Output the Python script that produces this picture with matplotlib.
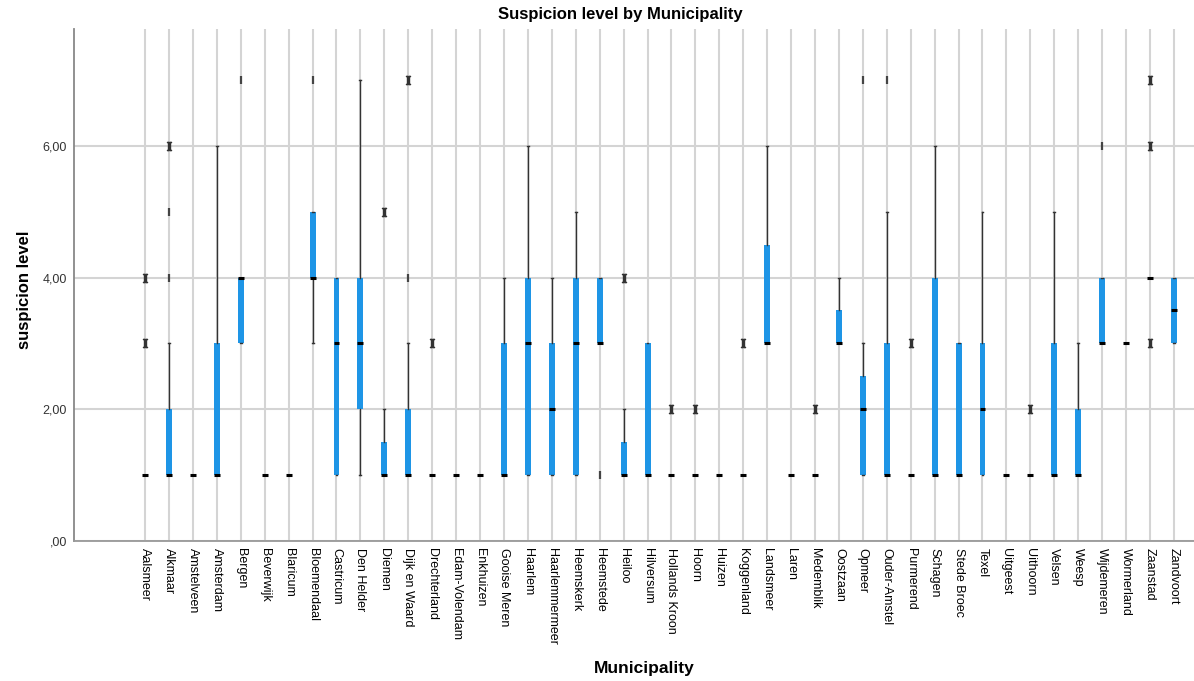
import matplotlib
matplotlib.use("Agg")
import matplotlib.pyplot as plt

plt.rcParams['font.family'] = ['Liberation Sans', 'DejaVu Sans']
plt.rcParams['mathtext.fontset'] = 'dejavuserif'

municipalities = [
    "Aalsmeer", "Alkmaar", "Amstelveen", "Amsterdam", "Bergen", "Beverwijk",
    "Blaricum", "Bloemendaal", "Castricum", "Den Helder", "Diemen",
    "Dijk en Waard", "Drechterland", "Edam-Volendam", "Enkhuizen",
    "Gooise Meren", "Haarlem", "Haarlemmermeer", "Heemskerk", "Heemstede",
    "Heiloo", "Hilversum", "Hollands Kroon", "Hoorn", "Huizen", "Koggenland",
    "Landsmeer", "Laren", "Medemblik", "Oostzaan", "Opmeer", "Ouder-Amstel",
    "Purmerend", "Schagen", "Stede Broec", "Texel", "Uitgeest", "Uithoorn",
    "Velsen", "Weesp", "Wijdemeren", "Wormerland", "Zaanstad", "Zandvoort",
]

q1 = [1, 1, 1, 1, 3, 1, 1, 4, 1, 2, 1, 1, 1, 1, 1, 1, 1, 1, 1, 3, 1, 1,
      1, 1, 1, 1, 3, 1, 1, 3, 1, 1, 1, 1, 1, 1, 1, 1, 1, 1, 3, 3, 4, 3]
median = [1, 1, 1, 1, 4, 1, 1, 4, 3, 3, 1, 1, 1, 1, 1, 1, 3, 2, 3, 3, 1, 1,
          1, 1, 1, 1, 3, 1, 1, 3, 2, 1, 1, 1, 1, 2, 1, 1, 1, 1, 3, 3, 4, 3.5]
q3 = [1, 2, 1, 3, 4, 1, 1, 5, 4, 4, 1.5, 2, 1, 1, 1, 3, 4, 3, 4, 4, 1.5, 3,
      1, 1, 1, 1, 4.5, 1, 1, 3.5, 2.5, 3, 1, 4, 3, 3, 1, 1, 3, 2, 4, 3, 4, 4]
whisker_lo = [1, 1, 1, 1, 3, 1, 1, 3, 1, 1, 1, 1, 1, 1, 1, 1, 1, 1, 1, 3, 1, 1,
              1, 1, 1, 1, 3, 1, 1, 3, 1, 1, 1, 1, 1, 1, 1, 1, 1, 1, 3, 3, 4, 3]
whisker_hi = [1, 3, 1, 6, 4, 1, 1, 5, 4, 7, 2, 3, 1, 1, 1, 4, 6, 4, 5, 4, 2, 3,
              1, 1, 1, 1, 6, 1, 1, 4, 3, 5, 1, 6, 3, 5, 1, 1, 5, 3, 4, 3, 4, 4]
outliers = [[3, 4], [6], [], [], [], [], [], [], [], [], [5], [7], [3], [], [],
            [], [], [], [], [], [4], [], [2], [2], [], [3], [], [], [2], [], [],
            [], [3], [], [], [], [], [2], [], [], [], [], [3, 6, 7], []]
extremes = [[], [4, 5], [], [], [7], [], [], [7], [], [], [], [4], [], [], [],
            [], [], [], [], [1], [], [], [], [], [], [], [], [], [], [], [7],
            [7], [], [], [], [], [], [], [], [], [6], [], [], []]

ytick_vals = [0, 2, 4, 6]
ytick_labels = [",00", "2,00", "4,00", "6,00"]

stats = []
for i, name in enumerate(municipalities):
    stats.append(dict(label=name, q1=q1[i], med=median[i], q3=q3[i],
                      whislo=whisker_lo[i], whishi=whisker_hi[i],
                      fliers=outliers[i]))

fig = plt.figure(figsize=(11.94, 6.81), dpi=100)
ax = fig.add_axes([0.062, 0.206, 0.938, 0.7515])
ax.set_axisbelow(True)

pos = list(range(len(municipalities)))
ax.bxp(stats, positions=pos, widths=0.25, patch_artist=True,
       boxprops=dict(facecolor='#1e95e6', edgecolor='#1e95e6', linewidth=0),
       medianprops=dict(color='black', linewidth=2.2, solid_capstyle='butt'),
       whiskerprops=dict(color='#333333', linewidth=1),
       capprops=dict(color='#333333', linewidth=1),
       capwidths=0.08,
       flierprops=dict(marker=r'$\mathrm{I}$', markersize=6,
                       markerfacecolor='#333333', markeredgecolor='#333333',
                       linestyle='none'))

# extreme values drawn as plain dashes
for i, vals in enumerate(extremes):
    if vals:
        ax.plot([i] * len(vals), vals, marker='|', linestyle='none',
                markersize=6, markeredgewidth=1.6, color='#444444')

ax.set_xlim(-2.97, 43.84)
ax.set_ylim(0, 7.78)
ax.set_xticks(pos)
ax.set_xticklabels(municipalities, rotation=270, fontsize=9, va='top', ha='center')
ax.set_yticks(ytick_vals)
ax.set_yticklabels(ytick_labels, fontsize=9, color='#333333')
ax.tick_params(length=0, pad=5)
ax.grid(True, color='#d4d4d4', linewidth=1.5)

for s in ['top', 'right']:
    ax.spines[s].set_visible(False)
ax.spines['left'].set_color('#888888')
ax.spines['bottom'].set_color('#999999')
ax.spines['left'].set_linewidth(1.3)
ax.spines['bottom'].set_linewidth(1.3)

fig.text(620 / 1194, 1 - 15 / 681, "Suspicion level by Municipality",
         ha='center', va='center', fontsize=12, fontweight='bold')
fig.text(25 / 1194, 1 - 290 / 681, "suspicion level", rotation=90,
         ha='center', va='center', fontsize=12, fontweight='bold')
fig.text(644 / 1194, 1 - 668 / 681, "Municipality",
         ha='center', va='center', fontsize=12.5, fontweight='bold')

plt.savefig('out.png', dpi=100)
